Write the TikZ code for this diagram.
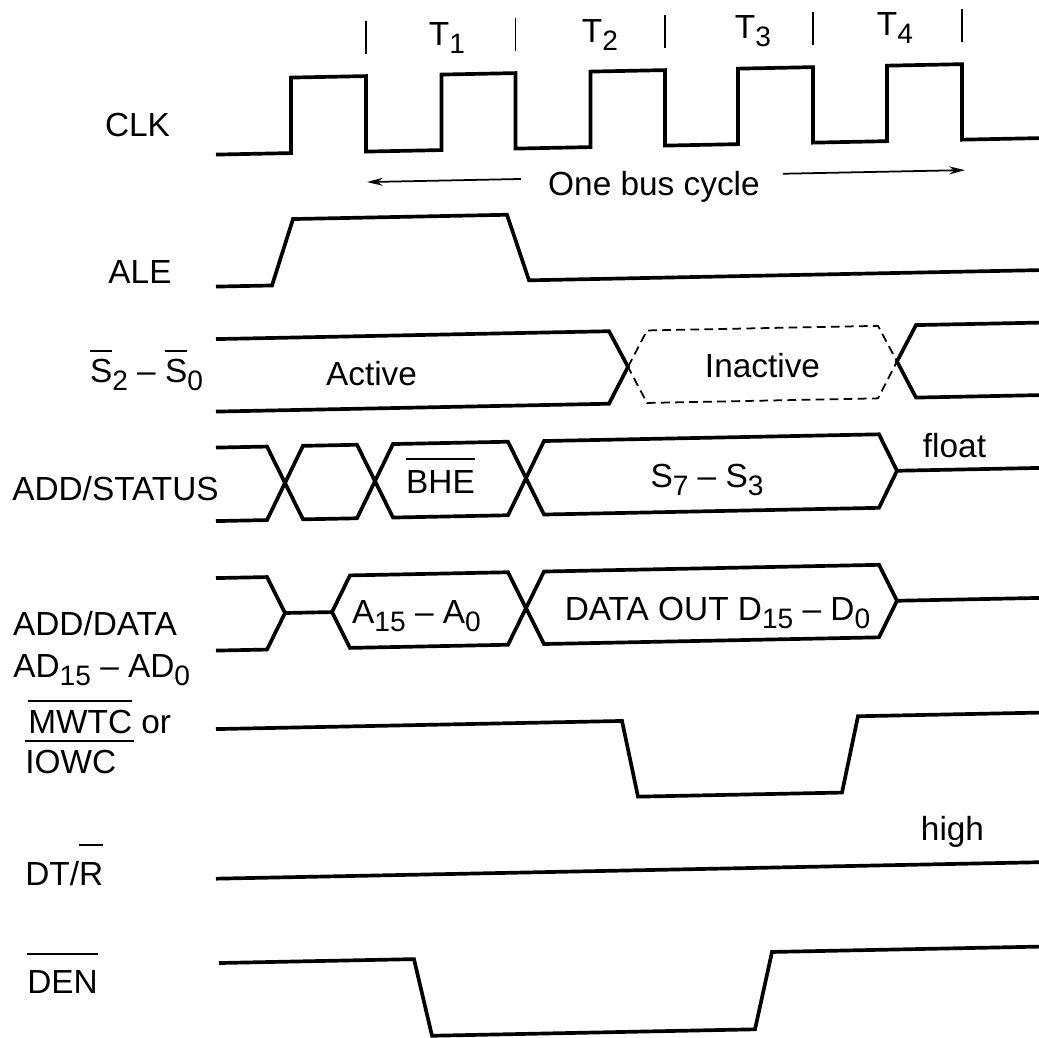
\documentclass[tikz,border=0pt]{standalone}
\usepackage{fontspec}
\setmainfont{Liberation Sans}
\usetikzlibrary{arrows.meta}
\newcommand\sbs[1]{\raisebox{-0.24em}{\fontsize{16}{16}\selectfont #1}}
\newcommand\obar[2][4.5pt]{\vbox{\hrule height 1.1pt\kern#1\hbox{#2}}}
\begin{document}
\begin{tikzpicture}[x=0.02cm,y=-0.02cm,
  wave/.style={line width=2.1pt},
  thinl/.style={line width=1pt},
  dsh/.style={line width=1pt, dash pattern=on 5pt off 3pt},
  lbl/.style={font=\fontsize{19}{22}\selectfont, inner sep=0pt, anchor=base},
  lbll/.style={lbl, anchor=base west}]
\useasboundingbox (0,0) rectangle (1039,1038);
\fill[white] (0,0) rectangle (1039,1038);
\begin{scope}[shift={(620,0)}, yslant=0.02, shift={(-620,0)}]
  % clock ticks
  \foreach \t in {366,515.5,665,813,962} \draw[thinl] (\t,16) -- (\t,49);
  % CLK
  \draw[wave] (216,146.5) -- (291,146.5) -- (291,71) -- (366,71) -- (366,146.5)
    -- (441.5,146.5) -- (441.5,71) -- (515.5,71) -- (515.5,146.5)
    -- (590.5,146.5) -- (590.5,71) -- (665,71) -- (665,146.5)
    -- (738,146.5) -- (738,71) -- (813,71) -- (813,146.5)
    -- (887,146.5) -- (887,71) -- (962,71) -- (962,146.5) -- (1039,146.5);
  % bus cycle arrows
  \coordinate (al1) at (521,177); \coordinate (al2) at (367,177);
  \coordinate (ar1) at (783,177); \coordinate (ar2) at (965,177);
  \draw[thinl, -{Stealth[length=9pt,width=4.5pt]}] (al1) -- (al2);
  \draw[thinl, -{Stealth[length=9pt,width=4.5pt]}] (ar1) -- (ar2);
  % ALE
  \draw[wave] (216,278.5) -- (272,278.5) -- (293,212.5) -- (507,212.5) -- (529,278.5) -- (1039,278.5);
  % S2-S0
  \draw[wave] (216,331) -- (609,331) -- (628,367) -- (609,403.5) -- (216,403.5);
  \draw[dsh] (628,367) -- (647,331) -- (878,331) -- (897,367) -- (878,403.5) -- (647,403.5) -- cycle;
  \draw[wave] (1039,331) -- (916,331) -- (897,367) -- (916,403.5) -- (1039,403.5);
  % ADD/STATUS
  \draw[wave] (216,439.5) -- (267,439.5) -- (303,513) -- (357,513) -- (393,439.5) -- (508,439.5)
    -- (544,513) -- (879,513) -- (897,476.3) -- (1039,476.3);
  \draw[wave] (216,513) -- (267,513) -- (303,439.5) -- (357,439.5) -- (393,513) -- (508,513)
    -- (544,439.5) -- (879,439.5) -- (897,476.3);
  % ADD/DATA
  \draw[wave] (216,570) -- (267,570) -- (285,606.3) -- (267,642.5) -- (216,642.5);
  \draw[wave] (285,606.3) -- (332,606.3);
  \draw[wave] (332,606.3) -- (350,570) -- (508,570) -- (544,642.5) -- (879,642.5) -- (897,606.3) -- (1039,606.3);
  \draw[wave] (332,606.3) -- (350,642.5) -- (508,642.5) -- (544,570) -- (879,570) -- (897,606.3);
  % MWTC / IOWC
  \draw[wave] (216,721) -- (622,721) -- (638,797) -- (842,797) -- (858,721) -- (1039,721);
  % DT/R
  \draw[wave] (216,870.6) -- (1039,870.6);
  % DEN
  \draw[wave] (219,955) -- (414,955) -- (432,1032) -- (755,1032) -- (772,955) -- (1039,955);
\end{scope}
% T labels
\node[lbl] (t1) at (447,45) {T\sbs{1}};
\node[lbl] (t2) at (600,42) {T\sbs{2}};
\node[lbl] (t3) at (753,38) {T\sbs{3}};
\node[lbl] (t4) at (895,35) {T\sbs{4}};
\node[lbl] (cyc) at (654,195) {One bus cycle};
% signal names
\node[lbl] (clk) at (137.5,136) {CLK};
\node[lbl] (ale) at (140,283) {ALE};
\node[lbl] (sn) at (146.5,382) {\obar[4pt]{S}\sbs{2} -- \obar[4pt]{S}\sbs{0}};
\node[lbl] (as) at (115.5,500) {ADD/STATUS};
\node[lbl] (ad) at (95,635) {ADD/DATA};
\node[lbll] (adn) at (13,677) {AD\sbs{15} -- AD\sbs{0}};
\node[lbll] (mw) at (28,733) {\obar{MWTC} or};
\node[lbll] (io) at (25,773) {\obar{IOWC\kern10pt}};
\node[lbll] (dt) at (25,885) {DT/\obar[9pt]{R}};
\node[lbll] (den) at (27,993) {\obar[8.5pt]{DEN}};
% in-bus labels
\node[lbl] (act) at (371.5,385) {Active};
\node[lbl] (inact) at (762.5,377) {Inactive};
\node[lbl] (bhe) at (440.5,493) {\obar[5.5pt]{BHE}};
\node[lbl] (s73) at (707,487) {S\sbs{7} -- S\sbs{3}};
\node[lbl] (flt) at (954.5,457) {float};
\node[lbl] (a15) at (416.5,623) {A\sbs{15} -- A\sbs{0}};
\node[lbl] (dout) at (717.5,620) {DATA OUT D\sbs{15} -- D\sbs{0}};
\node[lbl] (hi) at (952.5,840) {high};
\end{tikzpicture}
\end{document}
